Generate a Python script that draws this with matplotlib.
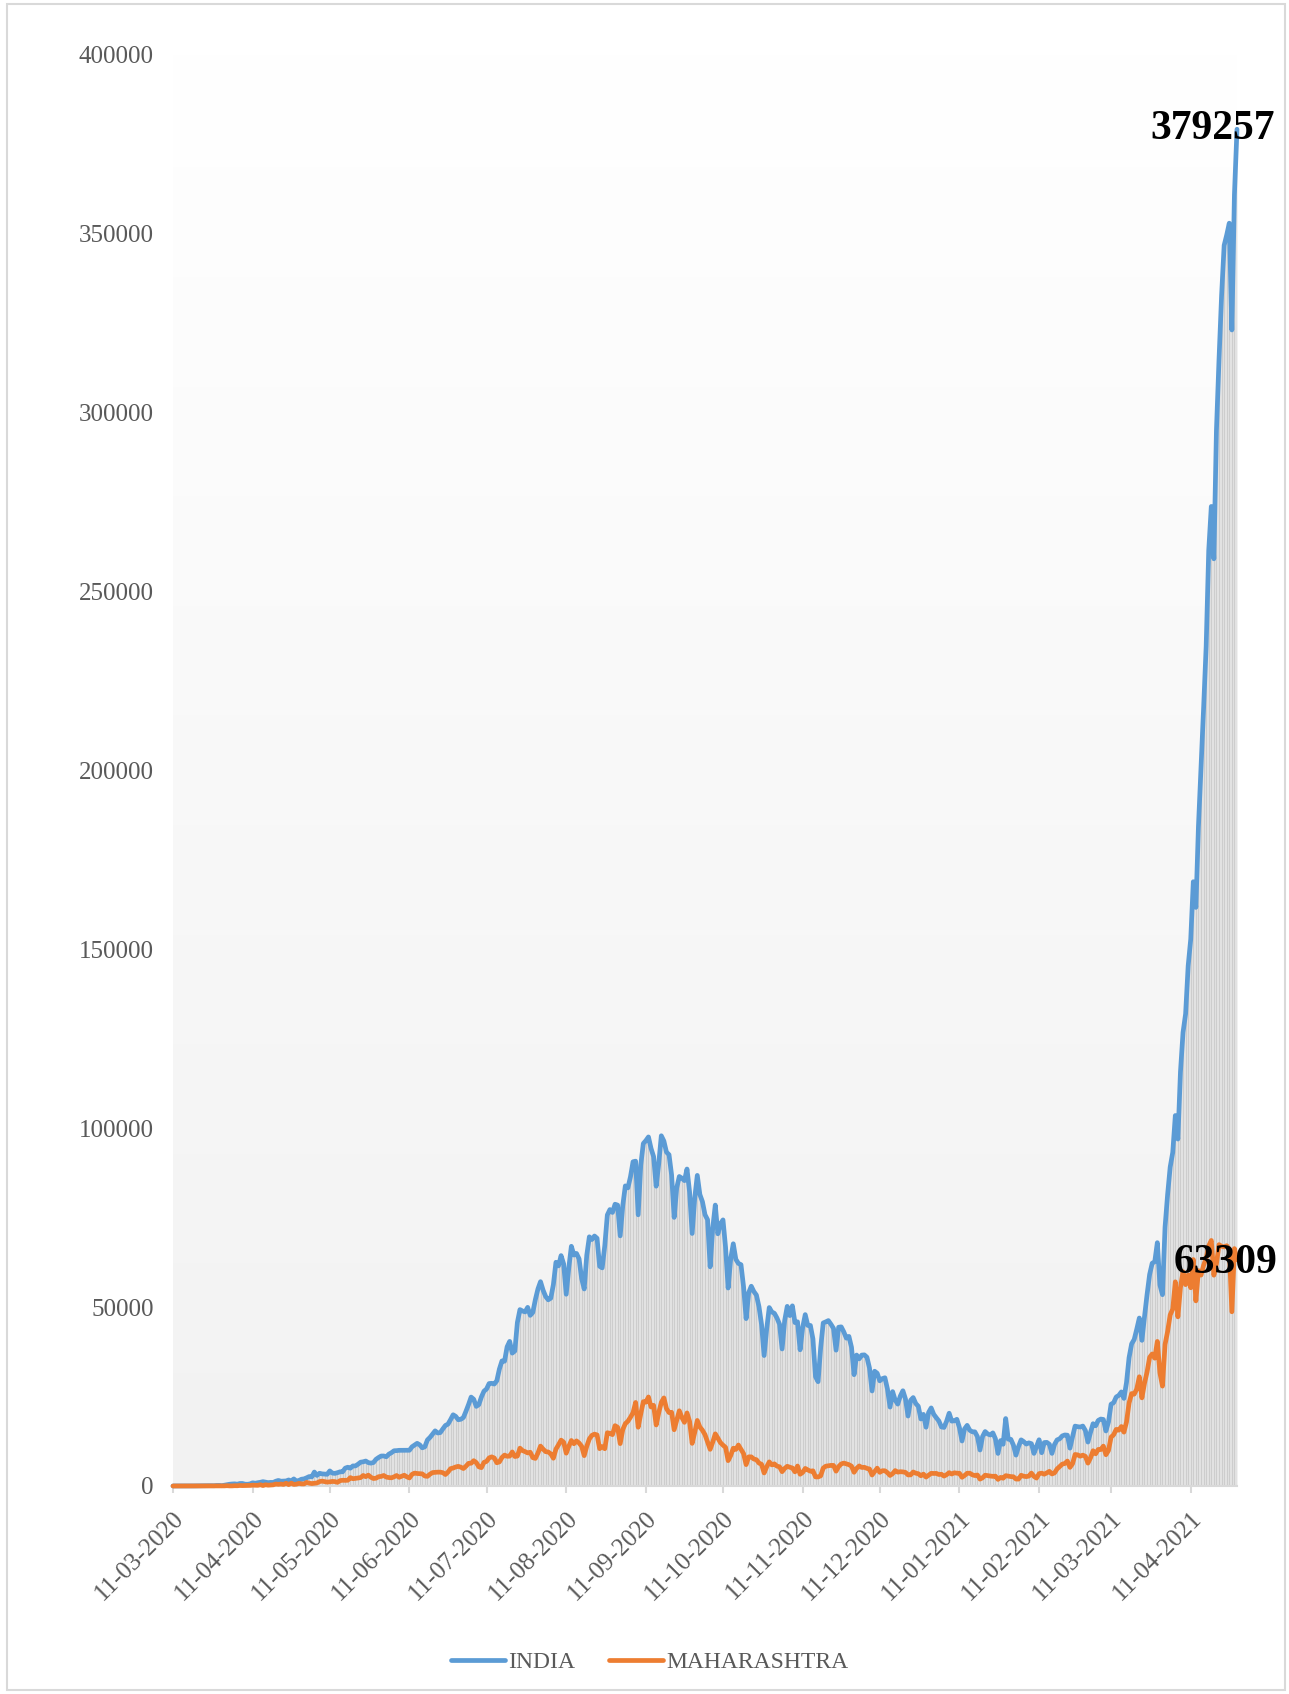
import numpy as np
import pandas as pd
import matplotlib
matplotlib.use('Agg')
import matplotlib.pyplot as plt
import matplotlib.dates as mdates
from matplotlib.patches import Rectangle

# ---------------- data (daily new cases, by report date) ----------------
start_date = '2020-03-11'
end_date = '2021-04-29'

india_2020_03 = [12, 11, 9, 20, 24, 12, 23, 14, 22, 36, 63, 74, 81, 96, 86, 88, 75, 149, 160, 92, 227]
india_2020_04 = [386, 485, 560, 601, 505, 693, 704, 508, 485, 591, 896, 768, 918, 1035, 1211, 1076, 941, 1007,
                 991, 1334, 1553, 1336, 1383, 1409, 1684, 1429, 1975, 1396, 1543, 1897]
india_2020_05 = [1993, 2293, 2644, 2553, 3900, 2958, 3561, 3390, 3320, 3277, 4213, 3604, 3525, 3722, 3967, 3970,
                 4987, 5242, 4970, 5611, 5609, 6088, 6654, 6767, 6977, 6535, 6387, 6566, 7466, 7964, 8380]
india_2020_06 = [8392, 8171, 8909, 9304, 9851, 9887, 9971, 9983, 9987, 9985, 9996, 10956, 11458, 11929, 11502,
                 10667, 10974, 12881, 13586, 14516, 15413, 14821, 14933, 15968, 16922, 17296, 18552, 19906,
                 19459, 18522]
india_2020_07 = [18653, 19148, 20903, 22771, 24850, 24248, 22252, 22752, 24879, 26506, 27114, 28637, 28701,
                 28498, 29429, 32695, 34956, 34884, 38902, 40425, 37148, 37740, 45720, 49310, 48916, 48661,
                 49931, 47703, 48513, 52123, 55079]
india_2020_08 = [57118, 54735, 52972, 52050, 52509, 56282, 62538, 61537, 64399, 62064, 53601, 60963, 66999,
                 64553, 65002, 63490, 57982, 55079, 64531, 69652, 68898, 69878, 69239, 61408, 60975, 67151,
                 75760, 77266, 76472, 78761, 78512]
india_2020_09 = [69921, 78357, 83883, 83341, 86432, 90632, 90802, 75809, 89706, 95735, 96551, 97570, 94372,
                 92071, 83809, 90123, 97894, 96424, 93337, 92605, 86961, 75083, 83347, 86508, 86052, 85362,
                 88600, 82170, 70589, 80472]
india_2020_10 = [86821, 81484, 79476, 75829, 74442, 61267, 72049, 78524, 70496, 73272, 74383, 66732, 55342,
                 63509, 67708, 63371, 62212, 61871, 55722, 46790, 54044, 55839, 54366, 53370, 50129, 45148,
                 36469, 43893, 49881, 48648, 48268]
india_2020_11 = [46963, 45231, 38310, 46253, 50209, 47638, 50356, 45674, 45903, 38073, 44281, 47905, 44879,
                 44878, 41100, 30548, 29163, 38617, 45576, 45882, 46232, 45209, 44059, 37975, 44376, 44489,
                 43082, 41322, 41810, 38772]
india_2020_12 = [31118, 36604, 35551, 36595, 36652, 36011, 32981, 26567, 32080, 31522, 29398, 30006, 30254,
                 27071, 22065, 26382, 24010, 22890, 25152, 26624, 24337, 19556, 23950, 24712, 23068, 22273,
                 18732, 20021, 16432, 20550, 21822]
india_2021_01 = [20035, 19078, 18177, 16504, 16375, 18088, 20346, 18139, 18222, 18645, 16311, 12584, 15968,
                 16946, 15590, 15158, 15144, 13788, 10064, 13823, 15223, 14545, 14256, 14849, 13203, 9102,
                 12689, 11666, 18855, 13083, 13052]
india_2021_02 = [11427, 8635, 11039, 12899, 12408, 11713, 12059, 11831, 9110, 11067, 12923, 9309, 12143,
                 12194, 11649, 9121, 11610, 12881, 13193, 13993, 14264, 14199, 10584, 13742, 16738, 16577,
                 16488, 16752]
india_2021_03 = [15510, 12286, 14989, 17407, 16838, 18327, 18711, 18599, 15388, 17921, 22854, 23285, 24882,
                 25320, 26291, 24492, 28903, 35871, 39726, 40953, 43846, 46951, 40715, 47262, 53476, 59118,
                 62258, 62714, 68020, 56211, 53480]
india_2021_04 = [72330, 81466, 89129, 93249, 103558, 96982, 115736, 126789, 131968, 145384, 152879, 168912,
                 161736, 184372, 200739, 217353, 234692, 261500, 273810, 259170, 295041, 314835, 332730,
                 346786, 349691, 352991, 323144, 360960, 379257]

mh_2020_03 = [1, 2, 6, 3, 5, 6, 4, 3, 3, 7, 3, 12, 10, 15, 12, 10, 12, 20, 28, 12, 33]
mh_2020_04 = [82, 30, 33, 81, 67, 145, 113, 120, 117, 162, 229, 210, 187, 352, 121, 350, 232, 286, 328, 552,
              466, 552, 431, 778, 394, 811, 440, 522, 729, 597]
mh_2020_05 = [583, 1008, 790, 678, 771, 841, 1233, 1362, 1216, 1089, 1165, 1278, 1230, 1026, 1495, 1602, 1576,
              1606, 2347, 2033, 2127, 2250, 2345, 2940, 2608, 3041, 2436, 2091, 2190, 2598, 2682]
mh_2020_06 = [2940, 2487, 2361, 2287, 2560, 2933, 2436, 2739, 3007, 2553, 2259, 3254, 3607, 3493, 3427, 3390,
              2786, 2701, 3307, 3752, 3827, 3874, 3870, 3721, 3214, 3890, 4841, 5024, 5318, 5493]
mh_2020_07 = [5257, 4878, 5537, 6328, 6364, 7074, 6555, 5368, 5134, 6603, 6875, 7862, 8139, 7827, 6497, 6741,
              7975, 8641, 8308, 8348, 9518, 8240, 8369, 10576, 9895, 9615, 9251, 9431, 7924, 7717, 9211]
mh_2020_08 = [11147, 10320, 9601, 9509, 8968, 7760, 10309, 11514, 12822, 12248, 9181, 11088, 12712, 11813,
              12608, 12020, 11111, 8493, 11119, 13165, 14161, 14492, 14281, 10441, 11015, 10425, 14888, 14718,
              14361, 16867, 16408]
mh_2020_09 = [11852, 15765, 17433, 18105, 19218, 20489, 23350, 16429, 20131, 23577, 23446, 24886, 22084,
              22543, 17066, 20482, 23365, 24619, 21656, 20519, 20598, 15738, 18390, 21029, 19164, 17794,
              20419, 18056, 11921, 14976]
mh_2020_10 = [18317, 16476, 15591, 14348, 12258, 10244, 12258, 14578, 13395, 12134, 11416, 10792, 7089, 8522,
              10552, 10226, 11447, 10259, 9060, 5984, 8151, 8142, 7539, 7347, 6417, 6059, 3645, 5363, 6738,
              5902, 6190]
mh_2020_11 = [5548, 5369, 4009, 4909, 5505, 5246, 5027, 3959, 5585, 3277, 3791, 4907, 4496, 4132, 4237, 2544,
              2535, 2840, 5011, 5535, 5640, 5760, 5753, 4153, 5439, 6159, 6406, 6185, 5965, 5544]
mh_2020_12 = [3837, 4930, 5600, 5182, 5229, 4922, 4757, 3075, 4026, 4981, 3824, 4268, 4259, 3717, 2949, 3442,
              4304, 3880, 3994, 3940, 3811, 3106, 3106, 3913, 3580, 3431, 2854, 3314, 2498, 3018, 3537]
mh_2021_01 = [3509, 3524, 3218, 3282, 2765, 3160, 3729, 3350, 3693, 3581, 3558, 2438, 2936, 3556, 3579, 3145,
              2910, 3081, 1924, 2294, 3015, 2886, 2779, 2697, 2752, 1842, 2405, 2171, 2889, 2771, 2630]
mh_2021_02 = [2585, 1948, 1924, 2992, 2736, 2628, 2768, 3611, 2673, 2216, 3451, 3595, 3297, 3670, 4092, 3365,
              3663, 4787, 5427, 6112, 6281, 6971, 5210, 6218, 8807, 8702, 8333, 8623]
mh_2021_03 = [8293, 6397, 7863, 9855, 8998, 10216, 10187, 11141, 8744, 9927, 13659, 14317, 15817, 15602,
              16620, 15051, 17864, 23179, 25833, 25681, 27126, 30535, 24645, 28699, 31855, 35952, 36902,
              35726, 40414, 31643, 27918]
mh_2021_04 = [39544, 43183, 47827, 49447, 57074, 47288, 55469, 59907, 56286, 58993, 55411, 63294, 51751,
              60212, 58952, 61695, 63729, 67123, 68631, 58924, 62097, 67468, 67013, 66836, 67160, 66191,
              48700, 66358, 63309]

series_labels = ['INDIA', 'MAHARASHTRA']
y_ticks = [0, 50000, 100000, 150000, 200000, 250000, 300000, 350000, 400000]

india = np.array(india_2020_03 + india_2020_04 + india_2020_05 + india_2020_06 + india_2020_07 +
                 india_2020_08 + india_2020_09 + india_2020_10 + india_2020_11 + india_2020_12 +
                 india_2021_01 + india_2021_02 + india_2021_03 + india_2021_04)
mh = np.array(mh_2020_03 + mh_2020_04 + mh_2020_05 + mh_2020_06 + mh_2020_07 + mh_2020_08 + mh_2020_09 +
              mh_2020_10 + mh_2020_11 + mh_2020_12 + mh_2021_01 + mh_2021_02 + mh_2021_03 + mh_2021_04)
dates = pd.date_range(start_date, end_date, freq='D')
n = min(len(dates), len(india), len(mh))
dates, india, mh = dates[:n], india[:n], mh[:n]

# ---------------- figure ----------------
plt.rcParams['font.family'] = ['Liberation Serif', 'DejaVu Serif']

fig = plt.figure(figsize=(12.89, 16.94), dpi=100)
ax = fig.add_axes([173 / 1289, 1 - 1486 / 1694, (1237 - 173) / 1289, (1486 - 55) / 1694])

# gradient plot-area background
grad = np.linspace(0.949, 1.0, 256).reshape(-1, 1)
grad = np.dstack([grad, grad, grad])
ax.imshow(grad, extent=[0, 1, 0, 1], transform=ax.transAxes, aspect='auto', origin='lower',
          zorder=0, interpolation='bicubic')

# drop lines under INDIA
ax.fill_between(dates, 0, india, color='#e4e4e4', linewidth=0, zorder=1)
ax.vlines(dates, 0, india, colors='#cdcdcd', linewidth=0.8, zorder=1.5)

l1, = ax.plot(dates, india, color='#5b9bd5', lw=3.4, solid_joinstyle='round', solid_capstyle='round',
              zorder=3, clip_on=False)
l2, = ax.plot(dates, mh, color='#ed7d31', lw=3.4, solid_joinstyle='round', solid_capstyle='round',
              zorder=4, clip_on=False)

ax.set_xlim(dates[0], dates[-1])
ax.set_ylim(0, 400000)

ax.set_yticks(y_ticks)
ax.set_yticklabels([str(v) for v in y_ticks])
xt = pd.date_range('2020-03-11', '2021-04-11', freq=pd.DateOffset(months=1))
ax.set_xticks(xt)
ax.set_xticklabels([d.strftime('%d-%m-%Y') for d in xt], rotation=45, ha='right', va='top',
                   rotation_mode='anchor')

for s in ['top', 'right', 'left']:
    ax.spines[s].set_visible(False)
ax.spines['bottom'].set_color('#d9d9d9')
ax.spines['bottom'].set_linewidth(1.5)
ax.spines['bottom'].set_zorder(2)

ax.tick_params(axis='y', length=0, labelsize=18, labelcolor='#595959', pad=14)
ax.tick_params(axis='x', length=5, width=1.5, color='#d9d9d9', labelsize=18, labelcolor='#595959', pad=10)

# data labels
ax.annotate(str(india[-1]), xy=(dates[-1], india[-1]), xytext=(-24, 0), textcoords='offset pixels',
            ha='center', va='center', fontsize=30, fontweight='bold', color='black',
            annotation_clip=False, zorder=6)
ax.annotate(str(mh[-1]), xy=(dates[-1], mh[-1]), xytext=(-11, -3), textcoords='offset pixels',
            ha='center', va='center', fontsize=30, fontweight='bold', color='black',
            annotation_clip=False, zorder=6)

leg = fig.legend([l1, l2], series_labels, loc='center', bbox_to_anchor=(0.504, 1 - 1662 / 1694),
                 ncol=2, frameon=False, fontsize=17, handlelength=2.3, handletextpad=0.15,
                 columnspacing=1.4, labelcolor='#595959')

fig.patches.append(Rectangle((0.0054, 0.0024), 0.9915, 0.9952, transform=fig.transFigure, fill=False,
                             edgecolor='#d9d9d9', linewidth=1.5))

fig.savefig('out.png', dpi=100)
